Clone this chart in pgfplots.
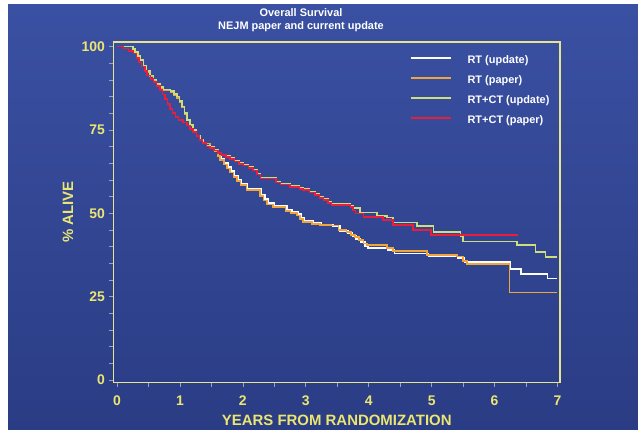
\documentclass[border=0pt]{standalone}
\usepackage{pgfplots}
\pgfplotsset{compat=1.18}
\usepackage{fontspec}
\setmainfont{Liberation Sans}
\definecolor{bgtop}{RGB}{58,80,162}
\definecolor{bgbot}{RGB}{42,60,132}
\definecolor{frameyel}{RGB}{230,228,140}
\definecolor{labyel}{RGB}{236,230,112}
\definecolor{cwhite}{RGB}{252,252,252}
\definecolor{corange}{RGB}{240,165,60}
\definecolor{cgreen}{RGB}{205,222,125}
\definecolor{cred}{RGB}{232,30,60}
\definecolor{tickc}{RGB}{150,160,200}

\pgfplotstableread{
t s
0 100
0.10 99.4
0.18 98.6
0.26 97.9
0.31 96.5
0.35 95.2
0.39 94.0
0.44 92.6
0.48 91.3
0.53 90.2
0.58 89.3
0.63 88.2
0.68 86.9
0.72 85.6
0.76 84.3
0.80 82.8
0.84 81.2
0.88 80.0
0.93 78.8
0.98 78.0
1.05 77.2
1.11 76.3
1.16 75.3
1.21 74.3
1.26 73.1
1.31 72.0
1.36 71.0
1.42 70.0
1.48 69.5
1.54 68.8
1.60 68.0
1.66 67.4
1.73 66.8
1.80 66.3
1.87 65.5
1.94 64.8
2.01 64.3
2.09 63.5
2.16 62.8
2.22 61.6
2.28 60.4
2.53 59.2
2.60 58.6
2.75 57.9
2.90 57.3
2.96 56.9
3.06 56.2
3.15 55.4
3.22 54.6
3.28 53.9
3.35 53.1
3.41 52.4
3.71 51.9
3.75 50.8
3.79 49.9
3.92 48.9
4.23 47.9
4.39 46.4
4.70 44.9
4.99 43.4
6.38 43.4
}\redtab

\pgfplotstableread{
t s
0 100
0.21 100
0.25 99.2
0.29 98.4
0.33 97.2
0.37 96.0
0.42 94.3
0.47 92.7
0.52 91.3
0.58 90.1
0.63 88.9
0.68 87.9
0.74 87.1
0.85 86.6
0.91 85.8
0.95 85.0
0.99 83.7
1.03 82.0
1.07 80.0
1.11 78.0
1.16 76.5
1.21 75.0
1.26 73.3
1.32 72.0
1.37 71.0
1.42 70.3
1.48 69.8
1.54 69.0
1.60 68.2
1.66 67.6
1.73 67.1
1.80 66.6
1.87 65.8
1.94 65.1
2.01 64.6
2.09 63.8
2.16 63.1
2.22 61.9
2.28 60.7
2.53 59.5
2.60 58.9
2.75 58.2
2.90 57.6
2.96 57.2
3.06 56.5
3.15 55.7
3.22 54.9
3.28 54.2
3.35 53.4
3.41 52.8
3.71 52.3
3.75 51.5
3.86 50.2
4.13 49.2
4.29 48.7
4.39 47.2
4.77 46.2
5.03 44.4
5.46 43.0
5.50 41.5
6.33 41.5
6.36 40.4
6.62 40.4
6.65 38.4
6.80 38.4
6.81 36.9
7.00 36.9
}\greentab

\pgfplotstableread{
t s
0 100
0.21 100
0.25 99.0
0.29 98.2
0.33 97.0
0.37 95.8
0.42 94.0
0.47 92.4
0.52 91.0
0.58 89.8
0.63 88.6
0.68 87.6
0.74 86.8
0.85 86.2
0.91 85.4
0.95 84.6
0.99 83.3
1.03 81.7
1.07 79.8
1.11 77.8
1.16 76.3
1.21 74.9
1.26 73.2
1.32 71.9
1.37 70.9
1.48 69.9
1.55 68.6
1.60 67.2
1.64 65.9
1.70 64.6
1.75 63.4
1.80 62.2
1.85 60.9
1.91 59.6
1.96 58.4
2.06 56.9
2.22 56.9
2.27 55.2
2.33 53.8
2.38 52.6
2.48 51.9
2.68 50.6
2.76 50.0
2.86 49.3
2.91 48.3
2.96 47.4
3.10 46.8
3.23 46.4
3.41 46.3
3.52 44.9
3.65 44.4
3.72 43.5
3.78 42.8
3.85 41.9
3.92 40.9
3.97 40.4
4.29 39.6
4.39 38.6
4.93 37.4
5.40 37.0
5.50 35.6
5.56 34.8
6.23 34.8
6.24 26.2
7.00 26.2
}\orangetab

\pgfplotstableread{
t s
0 100
0.21 100
0.25 99.0
0.29 98.2
0.33 97.0
0.37 95.8
0.42 94.0
0.47 92.4
0.52 91.0
0.58 89.8
0.63 88.6
0.68 87.6
0.74 86.8
0.85 86.2
0.91 85.4
0.95 84.6
0.99 83.3
1.03 81.7
1.07 79.8
1.11 77.8
1.16 76.3
1.21 74.9
1.26 73.2
1.32 71.9
1.37 70.9
1.48 69.9
1.55 68.6
1.60 67.2
1.65 66.2
1.71 65.0
1.76 63.8
1.81 62.6
1.86 61.3
1.92 60.0
1.97 58.8
2.07 57.3
2.24 57.3
2.29 55.6
2.35 54.2
2.40 53.0
2.50 52.3
2.70 51.0
2.78 50.4
2.88 49.7
2.93 48.7
2.98 47.8
3.12 47.2
3.25 46.6
3.43 46.1
3.54 44.6
3.67 44.0
3.74 43.1
3.80 42.3
3.87 41.3
3.94 40.2
3.99 39.6
4.31 38.9
4.41 37.9
4.95 37.0
5.42 36.6
5.52 35.3
6.24 35.3
6.25 33.3
6.41 33.3
6.42 31.8
6.83 31.8
6.84 30.4
7.00 30.4
}\whitetab

\begin{document}
\begin{tikzpicture}
\fill[white] (0bp,0bp) rectangle (638bp,430bp);
\shade[top color=bgtop,bottom color=bgbot] (8bp,0bp) rectangle (638bp,425bp);
\node[white,font=\bfseries\fontsize{11}{12.5}\selectfont,align=center] at (301bp,410bp) {Overall Survival\\NEJM paper and current update};
\begin{axis}[
  at={(113.5bp,47.5bp)}, anchor=south west, scale only axis,
  width=446.5bp, height=340.5bp,
  xmin=-0.056, xmax=7.04, ymin=-0.75, ymax=101.35,
  axis line style={frameyel, line width=1.6pt},
  xtick={0,1,...,7}, ytick={0,25,50,75,100},
  minor xtick={0.5,1.5,...,6.5}, minor ytick={5,10,...,95},
  xtick pos=bottom, ytick pos=left,
  tick align=outside, major tick length=4bp, minor tick length=4bp,
  every tick/.style={tickc, line width=0.6pt},
  /pgf/number format/assume math mode=true,
  tick label style={labyel, font=\bfseries\fontsize{14}{16}\selectfont},
  xticklabel style={yshift=-6bp},
  yticklabel style={xshift=-1bp},
  xlabel={YEARS FROM RANDOMIZATION}, ylabel={\% ALIVE},
  label style={labyel, font=\bfseries\fontsize{15}{17}\selectfont},
  xlabel style={at={(axis description cs:0.5,-0.112)}, anchor=center},
  ylabel style={at={(axis description cs:-0.102,0.5)}, anchor=center},
  legend style={draw=none, fill=none, at={(rel axis cs:0.664,0.962)}, anchor=north west,
    font=\bfseries\fontsize{11}{13}\selectfont, text=white, inner sep=0pt,
    nodes={inner sep=0pt, text height=8bp, text depth=2.5bp},
    row sep=9.5bp,
    /tikz/every odd column/.append style={column sep=15bp}},
  legend cell align=left,
  legend image code/.code={\draw[#1, line width=2.4bp] (0bp,0.4ex) -- (40bp,0.4ex);},
  clip=false,
]
\addplot[const plot, cwhite, line width=1.6bp] table[x=t,y=s]{\whitetab};
\addlegendentry{RT (update)}
\addplot[const plot, corange, line width=1.6bp] table[x=t,y=s]{\orangetab};
\addlegendentry{RT (paper)}
\addplot[const plot, cgreen, line width=1.6bp] table[x=t,y=s]{\greentab};
\addlegendentry{RT+CT (update)}
\addplot[const plot, cred, line width=1.6bp] table[x=t,y=s]{\redtab};
\addlegendentry{RT+CT (paper)}
\end{axis}
\end{tikzpicture}
\end{document}
